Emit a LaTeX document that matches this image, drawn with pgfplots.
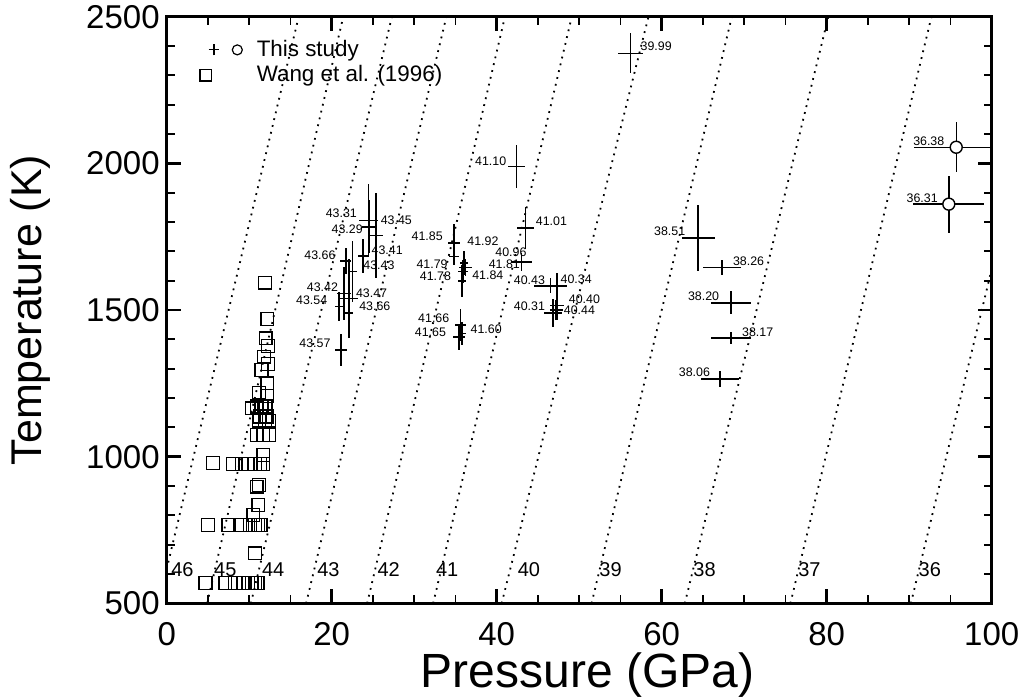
\documentclass[border=0pt]{standalone}
\usepackage{fontspec}
\setmainfont{Liberation Sans}
\usepackage{pgfplots}
\usepackage{pgfplotstable}
\pgfplotsset{compat=1.18}

% This study: crosses (P, T, dP, dT)
\pgfplotstableread{
P T dP dT
56.2 2375 1.5 68
42.4 1989 1.0 74
43.5 1779 1.0 71
43.0 1663 1.3 31
46.5 1583 2.0 26
47.3 1583 0.7 45
47.3 1515 0.9 50
46.8 1489 1.1 48
47.2 1500 0.8 35
34.8 1728 0.7 65
34.8 1682 0.6 30
36.0 1660 0.5 40
36.2 1645 0.8 30
35.9 1631 0.6 40
35.8 1600 0.5 55
35.6 1449 0.7 55
35.4 1409 0.75 45
35.8 1420 0.5 40
24.45 1805 1.2 123
24.6 1784 0.9 91
25.4 1754 0.77 145
23.8 1684 0.65 58
21.7 1668 0.65 45
22.5 1631 0.55 105
21.5 1557 0.9 91
22.1 1540 1.05 134
20.9 1512 0.5 48
22.1 1489 0.45 50
21.1 1364 0.75 55
64.4 1745 2.0 113
67.3 1645 2.3 25
68.4 1525 2.4 40
68.4 1404 2.4 20
67.1 1265 2.3 28
}\studydata

% This study: circles
\pgfplotstableread{
P T dP dT
95.7 2055 5.1 85
94.8 1861 4.3 97
}\circledata

% Wang et al. (1996)
\pgfplotstableread{
P T
11.9 1593
12.2 1469
12.0 1404
12.3 1378
11.8 1341
12.3 1316
11.5 1296
12.2 1250
11.2 1218
12.2 1207
10.3 1165
10.9 1171
11.5 1171
12.0 1171
11.3 1137
12.1 1137
11.2 1123
11.9 1123
12.4 1123
10.9 1074
11.7 1074
12.4 1074
11.7 1006
5.6 978
8.0 975
9.1 975
9.9 975
10.7 975
11.3 975
11.7 975
10.9 898
11.2 904
11.1 835
10.5 801
5.0 767
7.5 767
8.9 767
10.1 767
10.7 767
11.1 767
11.4 767
10.7 671
4.7 569
7.1 569
8.3 569
9.3 569
9.9 569
10.3 569
10.7 569
11.0 569
}\wangdata

\begin{document}
\begin{tikzpicture}
\useasboundingbox (-83.35bp,-47.3bp) rectangle (426.15bp,301.7bp);
\begin{axis}[
  at={(0,0)}, anchor=south west,
  scale only axis, width=412.5bp, height=293.35bp,
  xmin=0, xmax=100, ymin=500, ymax=2500,
  xtick={0,20,...,100}, ytick={500,1000,...,2500},
  minor x tick num=3, minor y tick num=4,
  tick align=inside, tick pos=both,
  xticklabel pos=left, yticklabel pos=left,
  major tick length=7bp, minor tick length=4bp,
  every major tick/.append style={line width=1.3bp, black},
  every minor tick/.append style={line width=0.9bp, black},
  axis line style={line width=1.5bp},
  tick label style={font=\fontsize{16.5bp}{20bp}\selectfont},
  xticklabel style={yshift=-6bp},
  /pgf/number format/assume math mode=true,
  /pgf/number format/1000 sep={},
  xlabel={Pressure (GPa)}, ylabel={Temperature (K)},
  every axis x label/.style={at={(axis description cs:0.51,-0.122)}, anchor=center,
    font=\fontsize{24bp}{28bp}\selectfont},
  every axis y label/.style={at={(axis description cs:-0.1657,0.5)}, rotate=90, anchor=center,
    font=\fontsize{21.5bp}{26bp}\selectfont},
  legend style={at={(axis cs:3.9,2421)}, anchor=north west, draw=none, fill=none,
    inner sep=0pt, row sep=3bp, nodes={inner sep=0pt},
    font=\fontsize{11.2bp}{13bp}\selectfont},
  legend cell align=left,
]
% isochores
\addplot[black, line width=0.9bp, dash pattern=on 0.9bp off 2.6bp, forget plot] coordinates {(-1.0,500) (16.0,2500)};
\addplot[black, line width=0.9bp, dash pattern=on 0.9bp off 2.6bp, forget plot] coordinates {(4.9,500) (21.4,2500)};
\addplot[black, line width=0.9bp, dash pattern=on 0.9bp off 2.6bp, forget plot] coordinates {(10.2,500) (27.3,2500)};
\addplot[black, line width=0.9bp, dash pattern=on 0.9bp off 2.6bp, forget plot] coordinates {(16.9,500) (33.9,2500)};
\addplot[black, line width=0.9bp, dash pattern=on 0.9bp off 2.6bp, forget plot] coordinates {(24.3,500) (41.0,2500)};
\addplot[black, line width=0.9bp, dash pattern=on 0.9bp off 2.6bp, forget plot] coordinates {(32.3,500) (49.1,2500)};
\addplot[black, line width=0.9bp, dash pattern=on 0.9bp off 2.6bp, forget plot] coordinates {(40.6,500) (58.4,2500)};
\addplot[black, line width=0.9bp, dash pattern=on 0.9bp off 2.6bp, forget plot] coordinates {(51.5,500) (68.5,2500)};
\addplot[black, line width=0.9bp, dash pattern=on 0.9bp off 2.6bp, forget plot] coordinates {(62.8,500) (80.2,2500)};
\addplot[black, line width=0.9bp, dash pattern=on 0.9bp off 2.6bp, forget plot] coordinates {(75.6,500) (92.7,2500)};
\addplot[black, line width=0.9bp, dash pattern=on 0.9bp off 2.6bp, forget plot] coordinates {(90.2,500) (107.4,2500)};

% legend entries
\addlegendimage{legend image code/.code={
  \draw[black, line width=0.6bp] (-2.7bp,0) -- (2.7bp,0) (0,-2.7bp) -- (0,2.7bp);
  \draw[black, line width=0.6bp] (11.65bp,0) circle (2.5bp);
  \path[draw=none, fill=none] (-3.0bp,-2.9bp) rectangle (25.5bp,2.9bp);
}}
\addlegendentry{This study}
\addlegendimage{legend image code/.code={
  \draw[black, line width=0.7bp] (-2.9bp,-2.9bp) rectangle (2.9bp,2.9bp);
  \path[draw=none, fill=none] (-3.0bp,-2.9bp) rectangle (25.5bp,2.9bp);
}}
\addlegendentry{Wang et al. (1996)}

% Wang et al. squares
\addplot[only marks, mark=square, mark size=3.2bp, mark options={black, line width=0.7bp}, forget plot] table[x=P, y=T] {\wangdata};

% This study crosses
\addplot[only marks, mark=*, mark size=0pt, mark options={draw=none, fill=none}, forget plot,
  error bars/.cd, x dir=both, x explicit, y dir=both, y explicit, error mark=none,
  error bar style={solid, draw=black, line width=0.8bp}]
  table[x=P, y=T, x error=dP, y error=dT] {\studydata};
% circles
\addplot[only marks, mark=*, mark size=0pt, mark options={draw=none, fill=none}, forget plot,
  error bars/.cd, x dir=both, x explicit, y dir=both, y explicit, error mark=none,
  error bar style={solid, draw=black, line width=0.7bp}]
  table[x=P, y=T, x error=dP, y error=dT] {\circledata};
\addplot[only marks, mark=*, mark size=3bp, mark options={fill=white, draw=black, line width=0.7bp}, forget plot]
  table[x=P, y=T] {\circledata};

% isochore labels
\begin{scope}[every node/.style={font=\fontsize{10bp}{12bp}\selectfont, inner sep=0pt}]
\node at (axis cs:1.9,614) {46};
\node at (axis cs:7.1,614) {45};
\node at (axis cs:12.9,614) {44};
\node at (axis cs:19.6,614) {43};
\node at (axis cs:26.9,614) {42};
\node at (axis cs:34.0,614) {41};
\node at (axis cs:43.9,614) {40};
\node at (axis cs:53.8,614) {39};
\node at (axis cs:65.2,614) {38};
\node at (axis cs:77.9,614) {37};
\node at (axis cs:92.5,614) {36};
\end{scope}

% point labels
\begin{scope}[every node/.style={font=\fontsize{6.2bp}{7.5bp}\selectfont, inner sep=0pt}]
\node[anchor=west] at (axis cs:57.4,2398) {39.99};
\node[anchor=east] at (axis cs:41.2,2009) {41.10};
\node[anchor=west] at (axis cs:44.7,1804) {41.01};
\node[anchor=west] at (axis cs:39.8,1697) {40.96};
\node[anchor=west] at (axis cs:36.4,1736) {41.92};
\node[anchor=west] at (axis cs:39.0,1656) {41.81};
\node[anchor=west] at (axis cs:37.0,1617) {41.84};
\node[anchor=east] at (axis cs:33.5,1750) {41.85};
\node[anchor=east] at (axis cs:34.1,1656) {41.79};
\node[anchor=east] at (axis cs:34.5,1614) {41.78};
\node[anchor=east] at (axis cs:34.3,1472) {41.66};
\node[anchor=east] at (axis cs:33.9,1423) {41.65};
\node[anchor=west] at (axis cs:36.8,1435) {41.60};
\node[anchor=east] at (axis cs:45.9,1603) {40.43};
\node[anchor=west] at (axis cs:47.7,1605) {40.34};
\node[anchor=west] at (axis cs:48.7,1538) {40.40};
\node[anchor=east] at (axis cs:45.9,1512) {40.31};
\node[anchor=west] at (axis cs:48.1,1500) {40.44};
\node[anchor=east] at (axis cs:23.1,1830) {43.31};
\node[anchor=west] at (axis cs:25.9,1807) {43.45};
\node[anchor=east] at (axis cs:23.8,1775) {43.29};
\node[anchor=west] at (axis cs:24.8,1705) {43.41};
\node[anchor=west] at (axis cs:23.8,1654) {43.43};
\node[anchor=east] at (axis cs:20.5,1688) {43.66};
\node[anchor=east] at (axis cs:20.8,1578) {43.42};
\node[anchor=west] at (axis cs:22.9,1557) {43.47};
\node[anchor=east] at (axis cs:19.5,1532) {43.54};
\node[anchor=west] at (axis cs:23.3,1512) {43.66};
\node[anchor=east] at (axis cs:19.9,1387) {43.57};
\node[anchor=east] at (axis cs:62.9,1767) {38.51};
\node[anchor=west] at (axis cs:68.6,1667) {38.26};
\node[anchor=east] at (axis cs:67.0,1548) {38.20};
\node[anchor=west] at (axis cs:69.7,1424) {38.17};
\node[anchor=east] at (axis cs:65.9,1288) {38.06};
\node[anchor=east] at (axis cs:94.3,2077) {36.38};
\node[anchor=east] at (axis cs:93.5,1881) {36.31};
\end{scope}
\end{axis}
\end{tikzpicture}
\end{document}
